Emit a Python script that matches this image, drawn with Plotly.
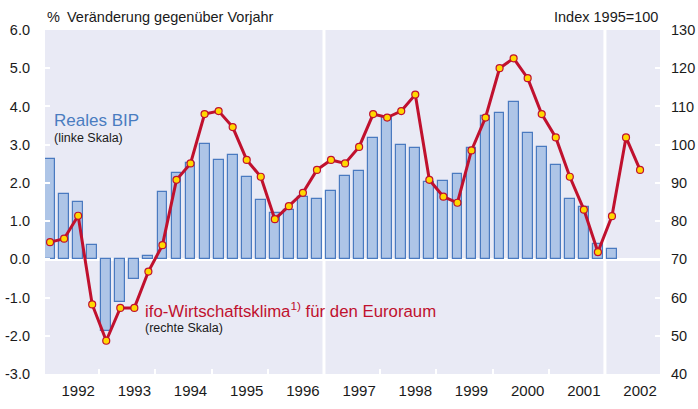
import plotly.graph_objects as go

# Real GDP growth, % y/y (left scale), quarterly
gdp = [2.62, 1.70, 1.50, 0.37, -1.88, -1.11, -0.51, 0.10, 1.75, 2.25, 2.51,
       3.01, 2.60, 2.72, 2.16, 1.55, 1.20, 1.29, 1.63, 1.58, 1.79, 2.19,
       2.30, 3.17, 3.72, 3.00, 2.90, 2.03, 2.04, 2.23, 2.90, 3.76, 3.84,
       4.11, 3.31, 2.95, 2.47, 1.59, 1.36, 0.41, 0.28]

# ifo economic climate for the euro area, index 1995=100 (right scale)
ifo = [74.5, 75.4, 81.4, 58.2, 48.7, 57.3, 57.3, 66.8, 73.7, 90.8, 95.1,
       108.0, 108.8, 104.6, 96.0, 91.6, 80.5, 83.9, 87.4, 93.4, 96.0, 95.1,
       99.4, 108.0, 107.1, 108.8, 113.1, 90.8, 86.4, 84.8, 98.5, 107.1, 120.0,
       122.6, 117.4, 108.0, 101.9, 91.6, 83.0, 71.9, 81.3, 101.9, 93.4]

year_labels = ["1992", "1993", "1994", "1995", "1996", "1997",
               "1998", "1999", "2000", "2001", "2002"]
left_ticks = ["-3.0", "-2.0", "-1.0", "0.0", "1.0", "2.0", "3.0", "4.0", "5.0", "6.0"]
right_ticks = ["40", "50", "60", "70", "80", "90", "100", "110", "120", "130"]

bar_x = list(range(len(gdp)))
line_x = list(range(len(ifo)))
label_pos = [2 + 4 * i for i in range(len(year_labels))]
boundary_pos = [3.5 + 4 * i for i in range(len(year_labels) - 1)]

FONT = "Liberation Sans, Arial, sans-serif"
TXT = "#1a1a1a"
BLUE_TXT = "#4a7cc0"
RED = "#c0112e"

fig = go.Figure()
fig.add_trace(go.Bar(
    x=bar_x, y=gdp, width=0.7,
    marker=dict(color="#aec5e7", line=dict(color="#4a7ac0", width=1.2)),
    yaxis="y", showlegend=False,
))
fig.add_trace(go.Scatter(
    x=line_x, y=ifo, mode="lines+markers",
    line=dict(color=RED, width=3),
    marker=dict(color="#ffd800", size=7, line=dict(color=RED, width=1.2)),
    yaxis="y2", showlegend=False,
))

for xv in (19.5, 39.5):
    fig.add_vline(x=xv, line=dict(color="white", width=3), layer="below")

fig.update_layout(
    width=698, height=409,
    margin=dict(l=45, r=38, t=30, b=35, autoexpand=False),
    paper_bgcolor="white", plot_bgcolor="#e9eaf5",
    font=dict(family=FONT, size=14.5, color=TXT),
    bargap=0,
    xaxis=dict(
        range=[-0.36, 43.42], tickmode="array", tickvals=label_pos, ticktext=year_labels,
        ticks="", showgrid=False, zeroline=False, showline=False, automargin=False,
        ticklabelstandoff=6, tickfont=dict(size=15),
        minor=dict(tickmode="array", tickvals=boundary_pos, ticks="inside",
                   ticklen=5, tickwidth=2, tickcolor="white", showgrid=False),
    ),
    yaxis=dict(
        range=[-3, 6], tickmode="array", tickvals=[-3, -2, -1, 0, 1, 2, 3, 4, 5, 6],
        ticktext=left_ticks, ticks="inside", ticklen=5, tickwidth=2, tickcolor="white",
        showgrid=False, zeroline=True, zerolinecolor="white", zerolinewidth=3,
        showline=False, ticklabelstandoff=14, automargin=False,
    ),
    yaxis2=dict(
        range=[40, 130], overlaying="y", side="right", tickmode="array",
        tickvals=[40, 50, 60, 70, 80, 90, 100, 110, 120, 130], ticktext=right_ticks,
        ticks="inside", ticklen=5, tickwidth=2, tickcolor="white", automargin=False,
        showgrid=False, zeroline=False, showline=False, ticklabelstandoff=10,
    ),
    annotations=[
        dict(text="%", xref="paper", yref="paper", x=0.0, y=1.0378,
             xanchor="left", yanchor="middle", showarrow=False, font=dict(size=14.5)),
        dict(text="Veränderung gegenüber Vorjahr", xref="paper", yref="paper",
             x=0.0325, y=1.0378, xanchor="left", yanchor="middle", showarrow=False,
             font=dict(size=14.5)),
        dict(text="Index 1995=100", xref="paper", yref="paper", x=1.0, y=1.0378,
             xanchor="right", yanchor="middle", showarrow=False, font=dict(size=14.5)),
        dict(text="Reales BIP", xref="paper", yref="paper", x=0.011, y=0.738,
             xanchor="left", yanchor="middle", showarrow=False,
             font=dict(size=17, color=BLUE_TXT)),
        dict(text="(linke Skala)", xref="paper", yref="paper", x=0.011, y=0.686,
             xanchor="left", yanchor="middle", showarrow=False,
             font=dict(size=12.5, color=TXT)),
        dict(text="ifo-Wirtschaftsklima<sup>1)</sup> für den Euroraum", xref="paper",
             yref="paper", x=0.159, y=0.186, xanchor="left", yanchor="middle",
             showarrow=False, font=dict(size=16.8, color=RED)),
        dict(text="(rechte Skala)", xref="paper", yref="paper", x=0.159, y=0.134,
             xanchor="left", yanchor="middle", showarrow=False,
             font=dict(size=12.5, color=TXT)),
    ],
)

fig.write_html("out.html", config={"displayModeBar": False},
               post_script="document.body.style.margin='0';")
